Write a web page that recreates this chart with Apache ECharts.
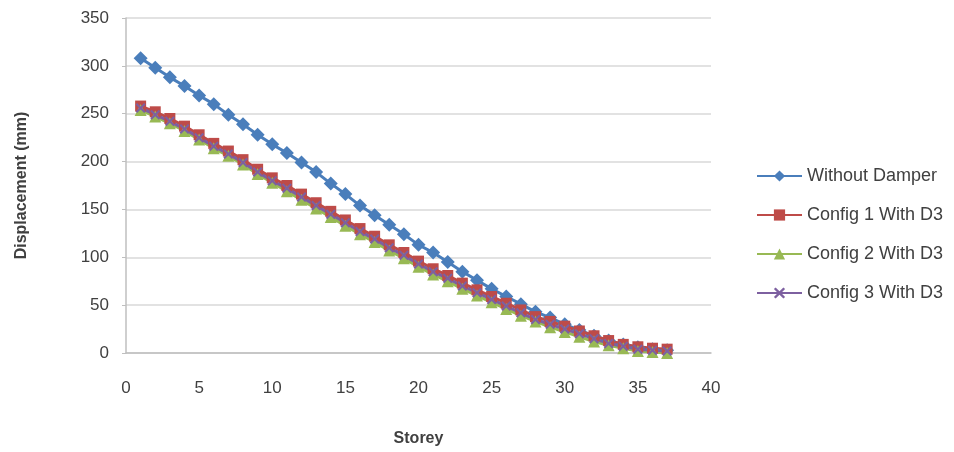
<!DOCTYPE html>
<html><head><meta charset="utf-8">
<script src="https://cdn.jsdelivr.net/npm/echarts@6/dist/echarts.min.js"></script>
<style>html,body{margin:0;padding:0;background:#fff}#c{width:954px;height:452px}</style>
</head><body><div id="c"></div>
<script>
const storeys = [1,2,3,4,5,6,7,8,9,10,11,12,13,14,15,16,17,18,19,20,21,22,23,24,25,26,27,28,29,30,31,32,33,34,35,36,37];
const withoutDamper = [308,298,288,279,269,260,249,239,228,218,209,199,189,177,166,154,144,134,124,113,105,95,85,76,67,59,51,43,37,30,24,18,13,9,6,4,3];
const config1 = [258,252,245,237,228,219,211,202,192,183,175,166,157,148,139,130,122,113,105,96,88,81,73,66,59,52,45,38,33,28,23,18,13,9,6.5,5,4];
const config2 = [254,247,240,232,223,214,206,197,187,178,169,160,151,142,133,124,116,107,99,90,82,75,67,60,53,46,39,33,27,22,17,12,8,5,2,1,0];
const config3 = [256,249,242,234,225,216,208,199,189,180,172,163,154,145,136,127,119,110,102,93,85,78,70,63,56,49,42,35,30,25,20,15,10,7,4,3,2];
const seriesNames = ['Without Damper','Config 1 With D3','Config 2 With D3','Config 3 With D3'];
const xTicks = [0,5,10,15,20,25,30,35,40];
const yTicks = [0,50,100,150,200,250,300,350];

const pair = arr => storeys.map((s,i)=>[s,arr[i]]);
const F = 'Liberation Sans';
const xSym = 'path://M0,1.5 L1.5,0 L5,3.5 L8.5,0 L10,1.5 L6.5,5 L10,8.5 L8.5,10 L5,6.5 L1.5,10 L0,8.5 L3.5,5 Z';
function mk(name, data, color, symbol, size){
  return {name, type:'line', data:pair(data), symbol, symbolSize:size,
    lineStyle:{color, width:3}, itemStyle:{color}, showSymbol:true, animation:false};
}
const chart = echarts.init(document.getElementById('c'));
chart.setOption({
  animation:false,
  grid:{left:126, right:243, top:18, bottom:93},
  legend:{orient:'vertical', left:751, top:162, itemWidth:45, itemHeight:14, itemGap:21,
    textStyle:{fontFamily:F, fontSize:18, color:'#404040'},
    data:seriesNames},
  xAxis:{type:'value', min:xTicks[0], max:xTicks[xTicks.length-1], interval:5,
    name:'Storey', nameLocation:'middle', nameGap:78,
    nameTextStyle:{fontFamily:F, fontSize:16, fontWeight:'bold', color:'#404040'},
    axisLine:{show:true, lineStyle:{color:'#BFBFBF', width:1.5}},
    axisTick:{show:false},
    splitLine:{show:false},
    axisLabel:{fontFamily:F, fontSize:17, color:'#404040', margin:27}},
  yAxis:{type:'value', min:yTicks[0], max:yTicks[yTicks.length-1], interval:50,
    name:'Displacement (mm)', nameLocation:'middle', nameGap:96,
    nameTextStyle:{fontFamily:F, fontSize:16, fontWeight:'bold', color:'#404040'},
    axisLine:{show:true, lineStyle:{color:'#BFBFBF', width:1.5}},
    axisTick:{show:true, length:4, lineStyle:{color:'#BFBFBF'}},
    splitLine:{show:true, lineStyle:{color:'#D9D9D9', width:1.5}},
    axisLabel:{fontFamily:F, fontSize:17, color:'#404040', margin:17}},
  series:[
    mk(seriesNames[0], withoutDamper, '#4A7EBB', 'diamond', 14),
    mk(seriesNames[1], config1, '#BE4B48', 'rect', 11),
    mk(seriesNames[2], config2, '#98B954', 'triangle', 12),
    mk(seriesNames[3], config3, '#7D60A0', xSym, 10)
  ]
});
</script></body></html>
